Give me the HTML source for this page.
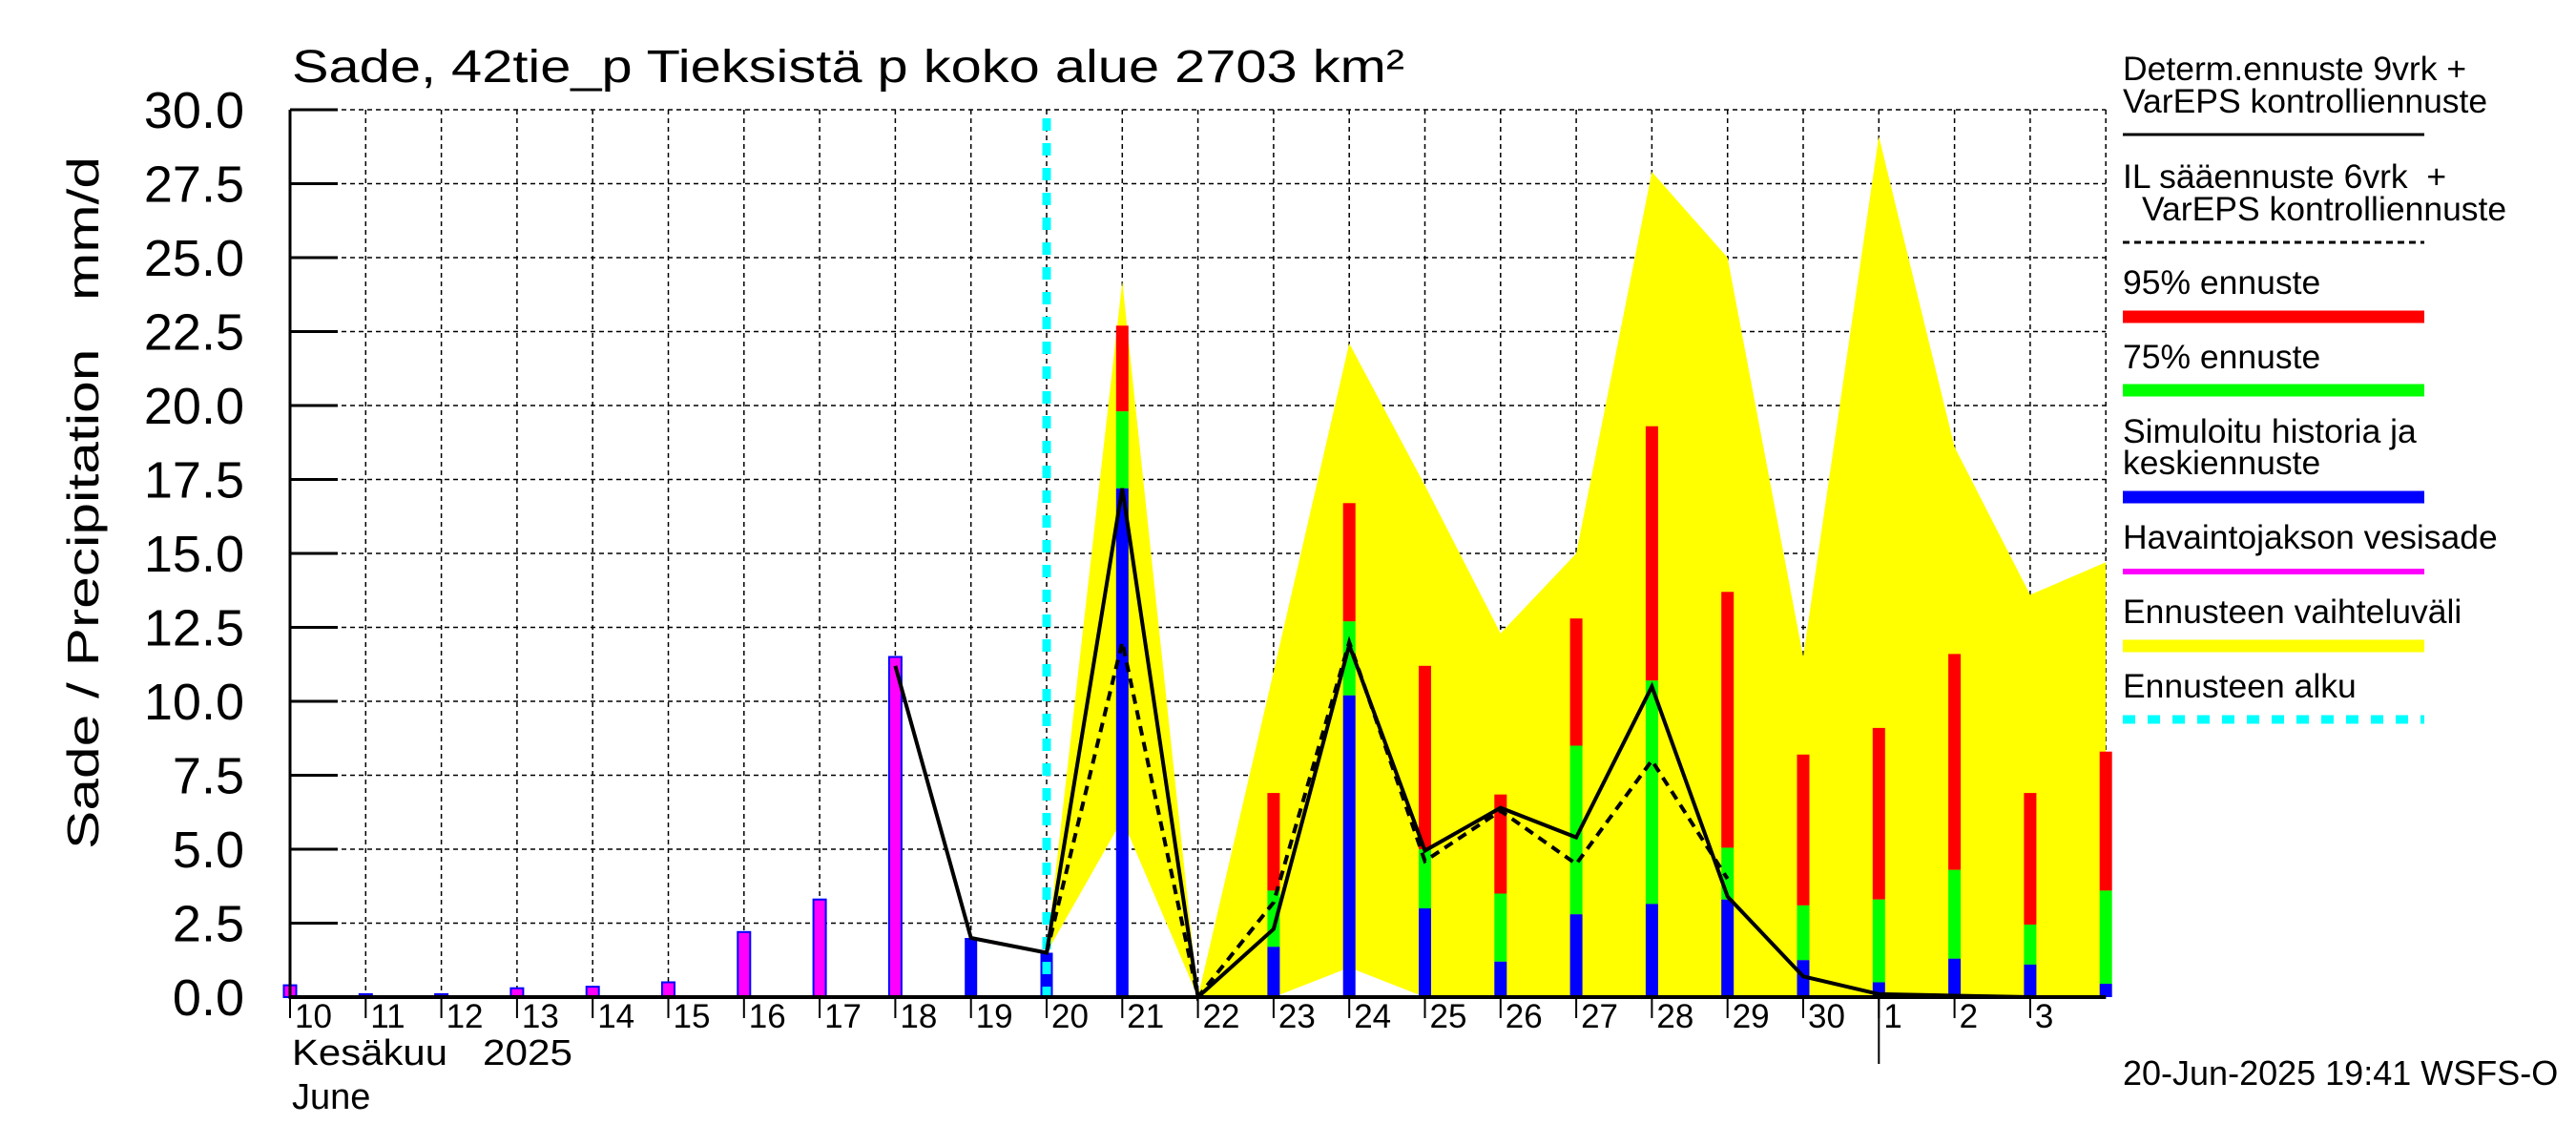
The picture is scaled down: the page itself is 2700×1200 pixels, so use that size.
<!DOCTYPE html>
<html><head><meta charset="utf-8"><style>
html,body{margin:0;padding:0;background:#fff;}
svg{display:block;font-family:"Liberation Sans",Arial,sans-serif;}
</style></head><body>
<svg id="chart" xmlns="http://www.w3.org/2000/svg" width="2700" height="1200" viewBox="0 0 2700 1200">
<rect width="2700" height="1200" fill="#fff"/>
<g id="grid"></g>
<g id="band"></g>
<g id="bars"></g>
<g id="lines"></g>
<g id="axes"></g>
<text x="306" y="86" font-size="48" textLength="1166" lengthAdjust="spacingAndGlyphs">Sade, 42tie_p Tieksistä p koko alue 2703 km²</text>
<text transform="translate(103,890) rotate(-90)" font-size="46" textLength="726" lengthAdjust="spacingAndGlyphs" xml:space="preserve">Sade / Precipitation   mm/d</text>
<text x="306" y="1116" font-size="38" textLength="163" lengthAdjust="spacingAndGlyphs">Kesäkuu</text>
<text x="506" y="1116" font-size="38" textLength="94" lengthAdjust="spacingAndGlyphs">2025</text>
<text x="306" y="1162" font-size="38">June</text>
<text x="2225" y="1137" font-size="36">20-Jun-2025 19:41 WSFS-O</text>
<g font-size="35.5">
<text x="2225" y="84">Determ.ennuste 9vrk +</text>
<text x="2225" y="118">VarEPS kontrolliennuste</text>
<line x1="2225" y1="141" x2="2541" y2="141" stroke="#000" stroke-width="3"/>
<text x="2225" y="197" xml:space="preserve">IL sääennuste 6vrk  +</text>
<text x="2245" y="231">VarEPS kontrolliennuste</text>
<line x1="2225" y1="254" x2="2541" y2="254" stroke="#000" stroke-width="3" stroke-dasharray="7,5"/>
<text x="2225" y="308">95% ennuste</text>
<line x1="2225" y1="332" x2="2541" y2="332" stroke="#f00" stroke-width="13"/>
<text x="2225" y="386">75% ennuste</text>
<line x1="2225" y1="409" x2="2541" y2="409" stroke="#0f0" stroke-width="13"/>
<text x="2225" y="464">Simuloitu historia ja</text>
<text x="2225" y="497">keskiennuste</text>
<line x1="2225" y1="521" x2="2541" y2="521" stroke="#00f" stroke-width="13"/>
<text x="2225" y="575">Havaintojakson vesisade</text>
<line x1="2225" y1="599" x2="2541" y2="599" stroke="#f0f" stroke-width="6"/>
<text x="2225" y="653">Ennusteen vaihteluväli</text>
<line x1="2225" y1="677" x2="2541" y2="677" stroke="#ff0" stroke-width="13"/>
<text x="2225" y="731">Ennusteen alku</text>
<line x1="2225" y1="754" x2="2541" y2="754" stroke="#0ff" stroke-width="9" stroke-dasharray="13,13"/>
</g>
</svg>
<script>
const dayLabels = ["10","11","12","13","14","15","16","17","18","19","20","21","22","23","24","25","26","27","28","29","30","1","2","3"];
const yTicks = [0,2.5,5,7.5,10,12.5,15,17.5,20,22.5,25,27.5,30];
// observed precipitation, day index 0..8 (Jun 10..18)
const obsDays = [0,1,2,3,4,5,6,7,8];
const obsValues = [0.4,0.1,0.1,0.3,0.35,0.5,2.2,3.3,11.5];
// simulated history (blue) Jun 19, 20
const simDays = [9,10];
const simValues = [2.0,1.5];
// forecast bars Jun 21 .. Jul 4
const fcDays = [11,12,13,14,15,16,17,18,19,20,21,22,23,24];
const fcMedian = [17.2,0,1.7,10.2,3.0,1.2,2.8,3.15,3.3,1.25,0.5,1.3,1.1,0.45];
const fc75 = [19.8,0,3.6,12.7,5.0,3.5,8.5,10.7,5.05,3.1,3.3,4.3,2.45,3.6];
const fc95 = [22.7,0.05,6.9,16.7,11.2,6.85,12.8,19.3,13.7,8.2,9.1,11.6,6.9,8.3];
// range band
const bandDays = [10,11,12,13,14,15,16,17,18,19,20,21,22,23,24];
const bandUpper = [1.5,24.2,0,11,22.1,17.3,12.3,15.0,27.9,25.0,11.5,29.1,18.6,13.6,14.7];
const bandLower = [1.5,6.0,0,0,1.0,0,0,0,0,0,0,0,0,0,0];
// deterministic (solid) line
const detDays = [8,9,10,11,12,13,14,15,16,17,18,19,20,21,22,23,24];
const detValues = [11.2,2.0,1.5,17.2,0,2.3,11.9,4.95,6.4,5.4,10.5,3.4,0.7,0.1,0.05,0,0];
// IL forecast (dashed) line
const ilDays = [10,11,12,13,14,15,16,17,18,19];
const ilValues = [1.5,12.0,0,3.2,12.0,4.6,6.3,4.5,8.0,4.0];
const forecastStartDay = 10;

const NS="http://www.w3.org/2000/svg";
const X0=304, DX=79.3, Y0=1045, DY=31, XR=304+24*79.3;
function xs(i){return X0+i*DX;}
function ys(v){return Y0-v*DY;}
function mk(tag,attrs,parent){const e=document.createElementNS(NS,tag);for(const k in attrs)e.setAttribute(k,attrs[k]);parent.appendChild(e);return e;}
const grid=document.getElementById('grid'),band=document.getElementById('band'),bars=document.getElementById('bars'),lines=document.getElementById('lines'),axes=document.getElementById('axes');

yTicks.forEach(t=>{
  const g=mk('line',{x1:X0,x2:XR,y1:ys(t),y2:ys(t),stroke:'#000','stroke-width':1.5,'stroke-dasharray':'5,4'},grid);
  
  
  const tk=mk('line',{x1:X0,x2:X0+50,y1:ys(t),y2:ys(t),stroke:'#000','stroke-width':3},axes);
  
  
  const lb=mk('text',{x:X0-48,y:ys(t)+19,'font-size':54,'text-anchor':'end'},axes);
  lb.textContent=t.toFixed(1);
  
  
});
for(let i=0;i<=24;i++){
  const g=mk('line',{x1:xs(i),x2:xs(i),y1:ys(30),y2:Y0,stroke:'#000','stroke-width':1.5,'stroke-dasharray':'5,4'},grid);
  
  
}
dayLabels.forEach((d,i)=>{
  const tk=mk('line',{x1:xs(i),x2:xs(i),y1:Y0,y2:Y0+22,stroke:'#000','stroke-width':2},axes);
  
  
  const lb=mk('text',{x:xs(i)+5,y:1077,'font-size':35},axes);
  lb.textContent=d;
  
  
});
const ml=mk('line',{x1:xs(21),x2:xs(21),y1:Y0,y2:1115,stroke:'#000','stroke-width':2},axes);



// band
let pts=bandDays.map((d,k)=>xs(d)+','+ys(bandUpper[k]));
for(let k=bandDays.length-1;k>=0;k--)pts.push(xs(bandDays[k])+','+ys(bandLower[k]));
const poly=mk('polygon',{points:pts.join(' '),fill:'#ff0'},band);



const BW=13;
obsDays.forEach((d,k)=>{
  const r=mk('rect',{x:xs(d)-BW/2,y:ys(obsValues[k]),width:BW,height:obsValues[k]*DY,fill:'#f0f',stroke:'#00f','stroke-width':2},bars);
  
  
});
simDays.forEach((d,k)=>{
  const r=mk('rect',{x:xs(d)-BW/2,y:ys(simValues[k]),width:BW,height:simValues[k]*DY,fill:'#00f'},bars);
  
  
});
fcDays.forEach((d,k)=>{
  const r1=mk('rect',{x:xs(d)-BW/2,y:ys(fc95[k]),width:BW,height:(fc95[k]-fc75[k])*DY,fill:'#f00'},bars);
  
  
  const r2=mk('rect',{x:xs(d)-BW/2,y:ys(fc75[k]),width:BW,height:(fc75[k]-fcMedian[k])*DY,fill:'#0f0'},bars);
  
  
  const r3=mk('rect',{x:xs(d)-BW/2,y:ys(fcMedian[k]),width:BW,height:fcMedian[k]*DY,fill:'#00f'},bars);
  
  
});

const cy=mk('line',{x1:xs(forecastStartDay),x2:xs(forecastStartDay),y1:124,y2:Y0,stroke:'#0ff','stroke-width':9,'stroke-dasharray':'13,13'},lines);


const dl=mk('polyline',{points:detDays.map((d,k)=>xs(d)+','+ys(detValues[k])).join(' '),fill:'none',stroke:'#000','stroke-width':4},lines);


const il=mk('polyline',{points:ilDays.map((d,k)=>xs(d)+','+ys(ilValues[k])).join(' '),fill:'none',stroke:'#000','stroke-width':4,'stroke-dasharray':'10,7'},lines);



const ax1=mk('line',{x1:X0,x2:X0,y1:ys(30),y2:Y0+2,stroke:'#000','stroke-width':3},axes);


const ax2=mk('line',{x1:X0,x2:XR,y1:Y0,y2:Y0,stroke:'#000','stroke-width':4},axes);


</script>
</body></html>
